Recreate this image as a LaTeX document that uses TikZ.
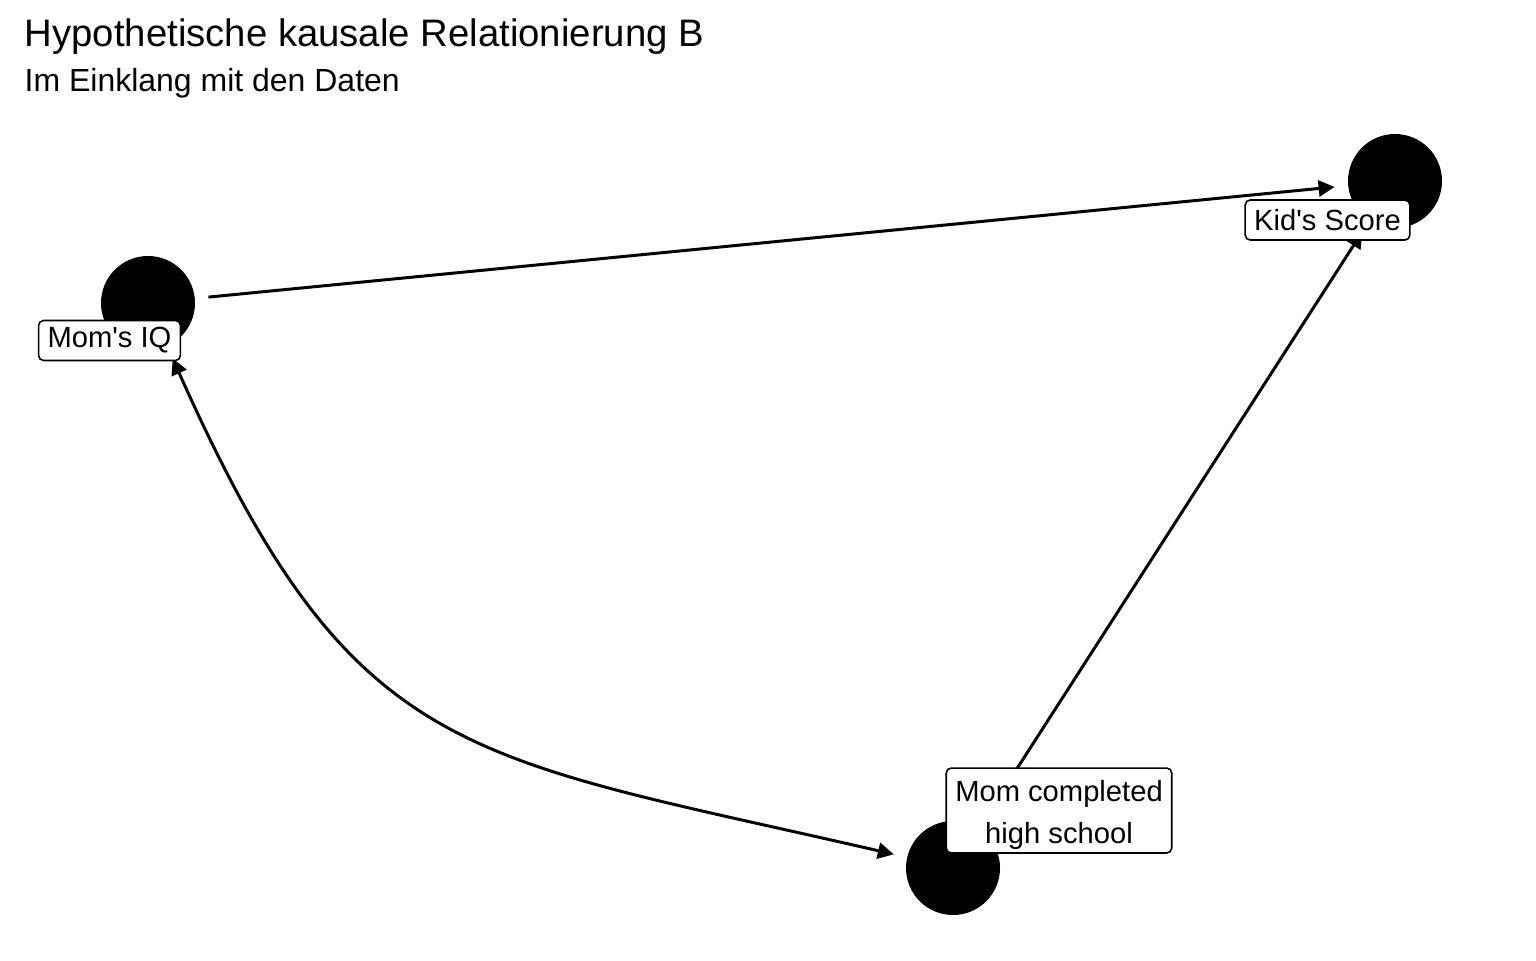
\documentclass[tikz,border=0pt]{standalone}
\usepackage{fontspec}
\setmainfont{Liberation Sans}
\usetikzlibrary{arrows.meta}

\begin{document}
\begin{tikzpicture}[
    dot/.style={circle,fill=black,minimum size=0.94cm,inner sep=0pt},
    lbl/.style={draw,fill=white,rounded corners=0.05cm,line width=0.45pt,
      font=\fontsize{8.3}{12.2}\selectfont,align=center,
      inner xsep=0.09cm,inner ysep=0.07cm,minimum height=0.40cm},
    edge/.style={line width=0.85pt,shorten <=0.13cm,shorten >=0.13cm},
    tip/.tip={Triangle[length=0.16cm,width=0.16cm]}]
  \useasboundingbox (0,0) rectangle (15.36,9.60);
  % heading
  \node[anchor=base west,inner sep=0pt,font=\fontsize{10.9}{13}\selectfont]
    (title)    at (0.24,9.14) {Hypothetische kausale Relationierung B};
  \node[anchor=base west,inner sep=0pt,font=\fontsize{9.1}{11}\selectfont]
    (subtitle) at (0.24,8.69) {Im Einklang mit den Daten};
  % the three variables
  \node[dot]    (IQ)       at (1.48,6.57)  {};
  \node[dot]    (KS)       at (13.95,7.79) {};
  \node[dot]    (HS)       at (9.53,0.92)  {};
  % causal links
  \draw[edge,-tip]   (IQ) -- (KS);
  \draw[edge,-tip]   (HS) -- (KS);
  \draw[edge,tip-tip] (IQ) to[out=-66,in=167,looseness=1.3] (HS);
  % labels on top
  \node[lbl]    (IQlbl)    at (1.095,6.195)  {Mom\textquotesingle s IQ};
  \node[lbl]    (KSlbl)    at (13.275,7.40) {Kid\textquotesingle s Score};
  \node[lbl,inner ysep=0.03cm] (HSlbl) at (10.59,1.495) {\strut Mom completed\\high school};
\end{tikzpicture}
\end{document}
